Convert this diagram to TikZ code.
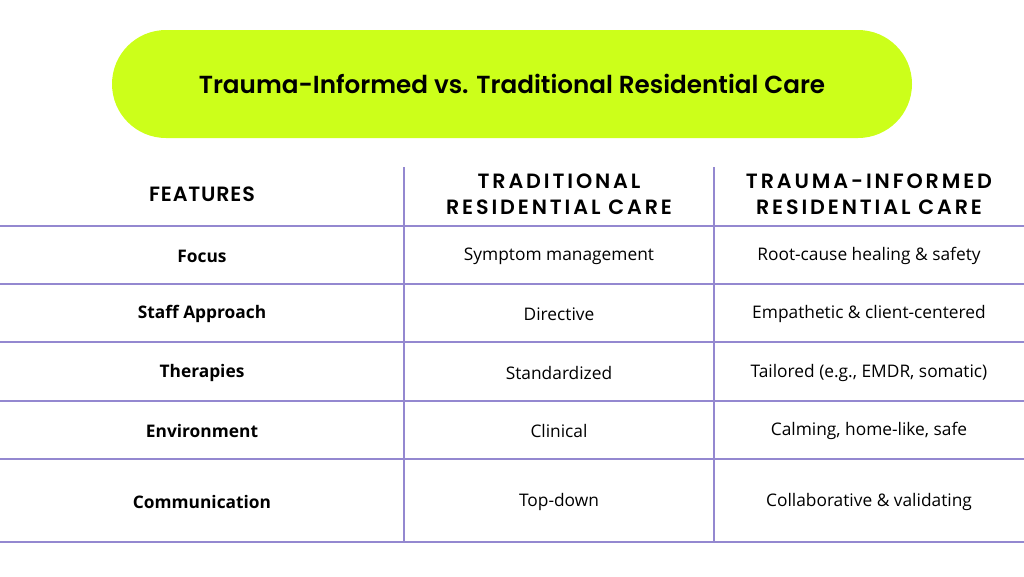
\documentclass[tikz,border=0pt]{standalone}
\usepackage{fontspec}
\setmainfont{Open Sans}
\newfontfamily\headfont[LetterSpace=14]{Poppins SemiBold}
\newfontfamily\featfont[LetterSpace=4]{Poppins SemiBold}
\newfontfamily\titlefont{Poppins SemiBold}
\definecolor{lime}{HTML}{CCFF1A}
\definecolor{gridline}{HTML}{9488D0}
\tikzset{
     cellText/.style =
        { font=\fontsize{13}{15}\selectfont
        , align=center
        }
   , featureText/.style =
        { cellText
        , font=\fontsize{13}{15}\selectfont\bfseries
        }
   , headText/.style =
        { align=center
        , font=\fontsize{15.5}{19.5}\selectfont\headfont
        }
}
\begin{document}
\begin{tikzpicture}
            [ x=0.75pt
            , y=-0.75pt
            , gridLine/.style={draw=gridline, line width=0.8pt}
            ]
            \useasboundingbox (0,0) rectangle (1024,576);
            \node[fill=lime, rounded corners=54*0.75pt, minimum width=800*0.75pt,
                  minimum height=108*0.75pt, inner sep=0pt] (title) at (512,84)
                  {\fontsize{18.5}{22}\selectfont\titlefont Trauma-Informed vs. Traditional Residential Care};

            % grid
            \foreach \y in {226,284,342,401,459,542}
                \draw[gridLine] (0,\y) -- (1024,\y);
            \draw[gridLine] (404,167) -- (404,542);
            \draw[gridLine] (714,167) -- (714,542);

            % header row
            \node[headText, font=\fontsize{15.5}{19.5}\selectfont\featfont] (hFeat) at (202,194) {FEATURES};
            \node[headText] (hTrad) at (559,194) {TRADITIONAL\\RESIDENTIAL CARE};
            \node[headText] (hTrauma) at (869,194) {TRAUMA-INFORMED\\RESIDENTIAL CARE};

            % body rows
            \foreach \y/\f/\a/\b/\n in
                { 256/Focus/Symptom management/Root-cause healing \& safety/1
                , 314/Staff Approach/Directive/Empathetic \& client-centered/2
                , 373/Therapies/Standardized/{Tailored (e.g., EMDR, somatic)}/3
                , 431/Environment/Clinical/{Calming, home-like, safe}/4
                , 502/Communication/Top-down/Collaborative \& validating/5
                }
            {
                \node[featureText] (f\n) at (202,\y) {\f};
                \node[cellText] (a\n) at (559,\y) {\a};
                \node[cellText] (b\n) at (869,\y) {\b};
            }
\end{tikzpicture}
\end{document}
